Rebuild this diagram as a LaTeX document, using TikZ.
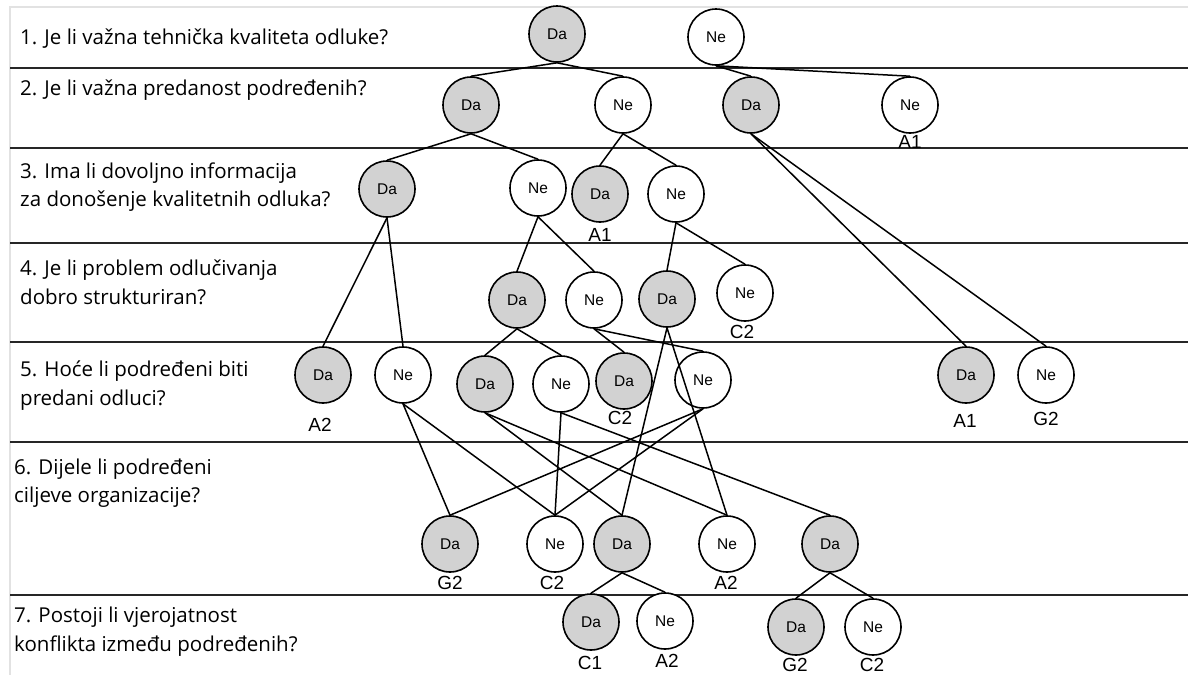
\documentclass[tikz,border=0pt]{standalone}
\usepackage{fontspec}
\setmainfont{Liberation Sans}
\newfontfamily\qfont{Open Sans}
\definecolor{nodegray}{HTML}{D2D2D2}
\definecolor{framegray}{HTML}{E2E2E2}
\begin{document}
\begin{tikzpicture}[x=1pt,y=-1pt,
  q/.style={anchor=base west, inner sep=0pt, font=\qfont\fontsize{20.5}{24}\selectfont},
  da/.style={circle, draw, line width=1.6pt, fill=nodegray, minimum size=56pt, inner sep=0pt, font=\fontsize{15.5}{17}\selectfont},
  ne/.style={da, fill=white},
  lab/.style={inner sep=0pt, font=\fontsize{19}{21}\selectfont},
  conn/.style={line width=1.5pt},
  sep/.style={line width=1.9pt, black!85},
  frame/.style={line width=2pt, framegray}]
\useasboundingbox (0,0) rectangle (1188,675);
\fill[white] (0,0) rectangle (1188,675);
% frame
\coordinate (fTL) at (10,7);
\coordinate (fTR) at (1188,7);
\coordinate (fBL) at (10,675);
\draw[frame] (fBL) -- (fTL) -- (fTR);
% separators
\foreach \yy/\nm in {68/s1,148/s2,243/s3,342/s4,442/s5,595/s6}{
  \coordinate (\nm a) at (10,\yy);
  \coordinate (\nm b) at (1188,\yy);
  \draw[sep] (\nm a) -- (\nm b);
}
% questions
\node[q] (q1) at (20,44) {1. Je li važna tehnička kvaliteta odluke?};
\node[q] (q2) at (20,95) {2. Je li važna predanost podređenih?};
\node[q] (q3a) at (20,178) {3. Ima li dovoljno informacija};
\node[q] (q3b) at (20,206) {za donošenje kvalitetnih odluka?};
\node[q] (q4a) at (20,275) {4. Je li problem odlučivanja};
\node[q] (q4b) at (20,304) {dobro strukturiran?};
\node[q] (q5a) at (20,376) {5. Hoće li podređeni biti};
\node[q] (q5b) at (20,405) {predani odluci?};
\node[q] (q6a) at (14,474) {6. Dijele li podređeni};
\node[q] (q6b) at (14,502) {ciljeve organizacije?};
\node[q] (q7a) at (14,622) {7. Postoji li vjerojatnost};
\node[q] (q7b) at (14,651) {konflikta između podređenih?};
% row 1
\node[da] (r1da) at (557,34) {Da};
\node[ne] (r1ne) at (716,37) {Ne};
% row 2
\node[da] (r2da1) at (471,105) {Da};
\node[ne] (r2ne1) at (623,105) {Ne};
\node[da] (r2da2) at (751,105) {Da};
\node[ne] (r2ne2) at (910,105) {Ne};
% row 3
\node[da] (r3da1) at (387,189) {Da};
\node[ne] (r3ne1) at (538,188) {Ne};
\node[da] (r3da2) at (600,194) {Da};
\node[ne] (r3ne2) at (676,194) {Ne};
% row 4
\node[da] (r4da1) at (517,300) {Da};
\node[ne] (r4ne1) at (594,300) {Ne};
\node[da] (r4da2) at (667,299) {Da};
\node[ne] (r4ne2) at (745,293) {Ne};
% row 5
\node[da] (r5da1) at (323,375) {Da};
\node[ne] (r5ne1) at (403,375) {Ne};
\node[da] (r5da2) at (485,384) {Da};
\node[ne] (r5ne2) at (561,384) {Ne};
\node[da] (r5da3) at (624,381) {Da};
\node[ne] (r5ne3) at (703,380) {Ne};
\node[da] (r5da4) at (966,375) {Da};
\node[ne] (r5ne4) at (1046,375) {Ne};
% row 6
\node[da] (r6da1) at (450,544) {Da};
\node[ne] (r6ne1) at (555,544) {Ne};
\node[da] (r6da2) at (622,544) {Da};
\node[ne] (r6ne2) at (727,544) {Ne};
\node[da] (r6da3) at (830,544) {Da};
% row 7
\node[da] (r7da1) at (591,622) {Da};
\node[ne] (r7ne1) at (665,621) {Ne};
\node[da] (r7da2) at (796,627) {Da};
\node[ne] (r7ne2) at (873,627) {Ne};
% labels
\node[lab] (l1) at (910,142) {A1};
\node[lab] (l2) at (600,235) {A1};
\node[lab] (l3) at (742,332) {C2};
\node[lab] (l4) at (320,425) {A2};
\node[lab] (l5) at (620,418) {C2};
\node[lab] (l6) at (965,421) {A1};
\node[lab] (l7) at (1046,419) {G2};
\node[lab] (l8) at (450,583) {G2};
\node[lab] (l9) at (552,583) {C2};
\node[lab] (l10) at (726,583) {A2};
\node[lab] (l11) at (590,663) {C1};
\node[lab] (l12) at (667,661) {A2};
\node[lab] (l13) at (795,665) {G2};
\node[lab] (l14) at (872,665) {C2};
% connectors
\foreach \a/\b in {r1da/r2da1, r1da/r2ne1, r1ne/r2da2, r1ne/r2ne2,
  r2da1/r3da1, r2da1/r3ne1, r2ne1/r3da2, r2ne1/r3ne2,
  r2da2/r5da4, r2da2/r5ne4,
  r3da1/r5da1, r3da1/r5ne1, r3ne1/r4da1, r3ne1/r4ne1,
  r3ne2/r4da2, r3ne2/r4ne2,
  r4da1/r5da2, r4da1/r5ne2, r4ne1/r5da3, r4ne1/r5ne3,
  r4da2/r6da2, r4da2/r6ne2,
  r5ne1/r6da1, r5ne1/r6ne1, r5da2/r6da2, r5da2/r6ne2,
  r5ne2/r6ne1, r5ne2/r6da3, r5ne3/r6da1, r5ne3/r6ne1,
  r6da2/r7da1, r6da2/r7ne1, r6da3/r7da2, r6da3/r7ne2}{
  \draw[conn] (\a.south) -- (\b.north);
}
\end{tikzpicture}
\end{document}
